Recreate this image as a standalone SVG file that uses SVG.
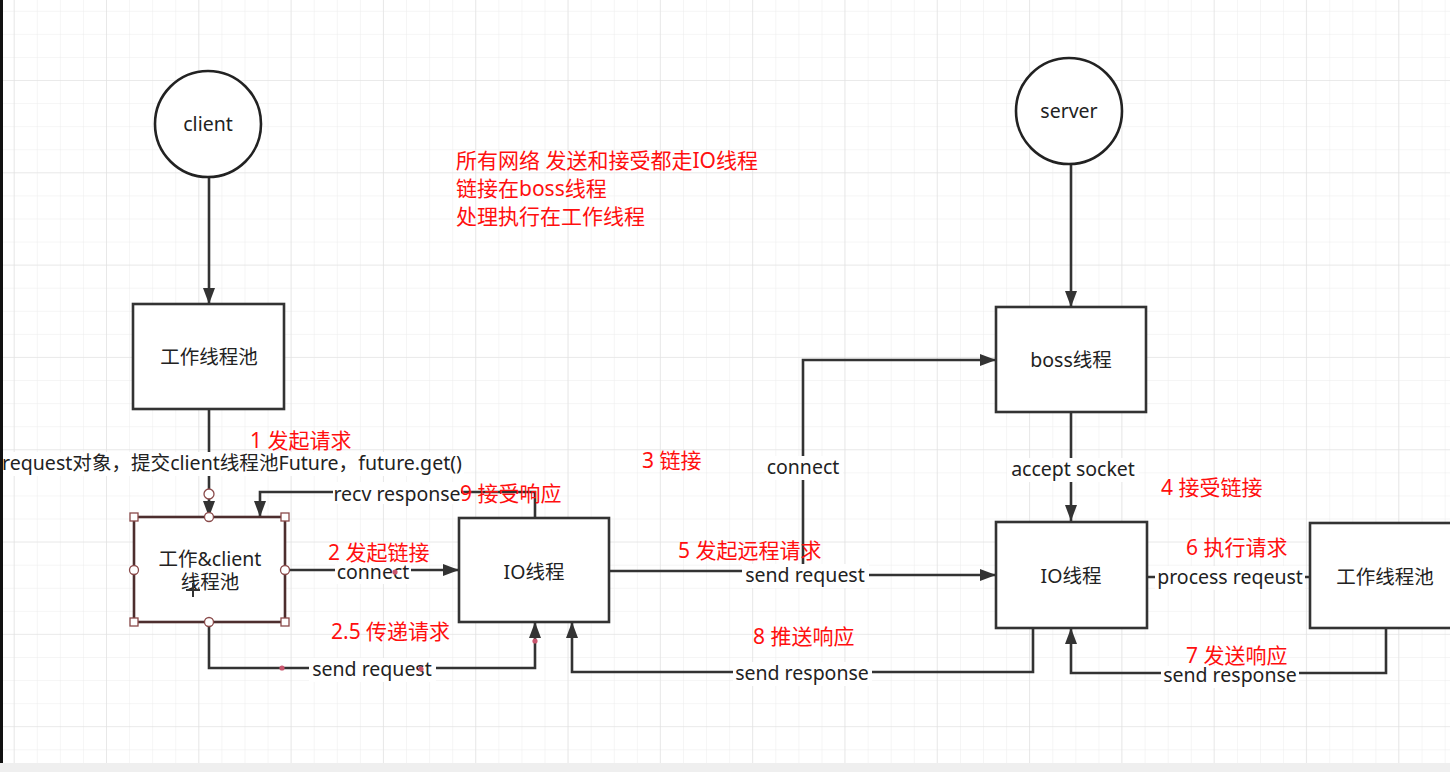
<svg xmlns="http://www.w3.org/2000/svg" width="1450" height="772" viewBox="0 0 1450 772">
<defs>
<pattern id="minor" x="13.7" y="-12.3" width="23.08" height="23.08" patternUnits="userSpaceOnUse">
<path d="M0,0 H23.08 M0,0 V23.08" fill="none" stroke="#ececec" stroke-width="1"/>
</pattern>
<pattern id="major" x="13.7" y="-12.3" width="92.3" height="92.3" patternUnits="userSpaceOnUse">
<path d="M0,0 H92.3 M0,0 V92.3" fill="none" stroke="#e0e0e0" stroke-width="1.2"/>
</pattern>
<marker id="arr" viewBox="0 0 16 12" refX="16" refY="6" markerWidth="16" markerHeight="12" markerUnits="userSpaceOnUse" orient="auto">
<path d="M0,0 L16,6 L0,12 z" fill="#333"/>
</marker>
<style>
.edge{fill:none;stroke:#333;stroke-width:2.6}
.box{fill:#fff;stroke:#333;stroke-width:2.6}
.sel{fill:#fff;stroke:#4d2e2e;stroke-width:2.6}
.lbl{font-family:"Noto Sans","Noto Sans CJK SC",sans-serif;font-size:19.5px;fill:#222;text-anchor:middle}
.node{font-family:"Noto Sans","Noto Sans CJK SC",sans-serif;font-size:19.5px;fill:#222;text-anchor:middle}
.red{font-family:"Noto Sans","Noto Sans CJK SC",sans-serif;font-size:21px;fill:#ff0f0f}
.bg{fill:#fff}
.h{fill:#fff;stroke:#8a4a4a;stroke-width:1.3}
.dot{fill:#c9566e}
</style>
</defs>
<rect width="1450" height="772" fill="#fff"/>
<rect width="1450" height="772" fill="url(#minor)"/>
<rect width="1450" height="772" fill="url(#major)"/>
<rect x="0" y="763" width="1450" height="9" fill="#efefef"/>
<rect x="0" y="0" width="3" height="763" fill="#111"/>

<g id="connectors">
<path class="edge" d="M209,178 V304" marker-end="url(#arr)"/>
<path class="edge" d="M209,409 V517" marker-end="url(#arr)"/>
<path class="edge" d="M535,517 V492 H260 V517" marker-end="url(#arr)"/>
<path class="edge" d="M285,570 H459" marker-end="url(#arr)"/>
<path class="edge" d="M209,622 V668 H535 V622" marker-end="url(#arr)"/>
<path class="edge" d="M609,571 H805 V575 H996" marker-end="url(#arr)"/>
<path class="edge" d="M803,571 V360 H996" marker-end="url(#arr)"/>
<path class="edge" d="M1033,628 V672 H572 V622" marker-end="url(#arr)"/>
<path class="edge" d="M1071,164 V307" marker-end="url(#arr)"/>
<path class="edge" d="M1071,412 V521" marker-end="url(#arr)"/>
<path class="edge" d="M1147,577 H1310"/>
<path class="edge" d="M1386,628 V673 H1071 V628" marker-end="url(#arr)"/>

<rect class="bg" x="4" y="452" width="460" height="24"/>
<text class="lbl" x="2" y="470" style="text-anchor:start" textLength="460" lengthAdjust="spacingAndGlyphs">request对象，提交client线程池Future，future.get()</text>
<rect class="bg" x="333" y="482" width="128" height="22"/>
<text class="lbl" x="397" y="501">recv response</text>
<rect class="bg" x="335" y="562" width="76" height="22"/>
<text class="lbl" x="373" y="579">connect</text>
<rect class="bg" x="309" y="658" width="127" height="24"/>
<text class="lbl" x="372" y="676">send request</text>
<rect class="bg" x="765" y="456" width="78" height="24"/>
<text class="lbl" x="803" y="474">connect</text>
<rect class="bg" x="742" y="564" width="127" height="24"/>
<text class="lbl" x="805" y="582">send request</text>
<rect class="bg" x="733" y="662" width="139" height="24"/>
<text class="lbl" x="802" y="680">send response</text>
<rect class="bg" x="1007" y="458" width="132" height="24"/>
<text class="lbl" x="1073" y="476">accept socket</text>
<rect class="bg" x="1155" y="566" width="150" height="24"/>
<text class="lbl" x="1230" y="584">process reqeust</text>
<rect class="bg" x="1161" y="666" width="138" height="22"/>
<text class="lbl" x="1230" y="682">send response</text>

<circle class="dot" cx="282" cy="668" r="2.6"/>
<circle class="dot" cx="421" cy="669" r="2.6"/>
<circle class="dot" cx="535" cy="641" r="2.6"/>
<circle class="dot" cx="395" cy="572" r="2.6"/>
<circle class="h" cx="209" cy="494" r="5"/>
</g>

<g id="client">
<circle cx="208" cy="124" r="53" fill="#fff" stroke="#222" stroke-width="2.6"/>
<text class="node" x="208" y="131">client</text>
</g>
<g id="pool-client">
<rect class="box" x="133" y="304" width="151" height="105"/>
<text class="node" x="209" y="364">工作线程池</text>
</g>
<g id="work-client-pool">
<rect class="sel" x="134" y="517" width="151" height="105"/>
<text class="node" x="210" y="566">工作&amp;client</text>
<text class="node" x="210" y="589">线程池</text>
<path d="M193,583 V597 M186,590 H200" stroke="#333" stroke-width="2" fill="none"/>
<rect class="h" x="130" y="513" width="8" height="8"/>
<rect class="h" x="281" y="513" width="8" height="8"/>
<rect class="h" x="130" y="618" width="8" height="8"/>
<rect class="h" x="281" y="618" width="8" height="8"/>
<circle class="h" cx="209" cy="517" r="4.5"/>
<circle class="h" cx="134" cy="570" r="4.5"/>
<circle class="h" cx="285" cy="570" r="4.5"/>
<circle class="h" cx="209" cy="622" r="4.5"/>
</g>
<g id="io-client">
<rect class="box" x="459" y="518" width="150" height="104"/>
<text class="node" x="534" y="579">IO线程</text>
</g>
<g id="server">
<circle cx="1069" cy="111" r="53" fill="#fff" stroke="#222" stroke-width="2.6"/>
<text class="node" x="1069" y="118">server</text>
</g>
<g id="boss">
<rect class="box" x="996" y="307" width="150" height="105"/>
<text class="node" x="1071" y="367">boss线程</text>
</g>
<g id="io-server">
<rect class="box" x="996" y="522" width="151" height="106"/>
<text class="node" x="1071" y="583">IO线程</text>
</g>
<g id="pool-server">
<rect class="box" x="1310" y="523" width="152" height="105"/>
<text class="node" x="1385" y="584">工作线程池</text>
</g>

<g id="notes">
<text class="red" x="456" y="168">所有网络 发送和接受都走IO线程</text>
<text class="red" x="456" y="196">链接在boss线程</text>
<text class="red" x="456" y="224">处理执行在工作线程</text>
<text class="red" x="250" y="448">1 发起请求</text>
<text class="red" x="460" y="501">9 接受响应</text>
<text class="red" x="328" y="560">2 发起链接</text>
<text class="red" x="331" y="639">2.5 传递请求</text>
<text class="red" x="642" y="468">3 链接</text>
<text class="red" x="678" y="558">5 发起远程请求</text>
<text class="red" x="753" y="644">8 推送响应</text>
<text class="red" x="1161" y="495">4 接受链接</text>
<text class="red" x="1186" y="555">6 执行请求</text>
<text class="red" x="1186" y="663">7 发送响应</text>
</g>
</svg>
